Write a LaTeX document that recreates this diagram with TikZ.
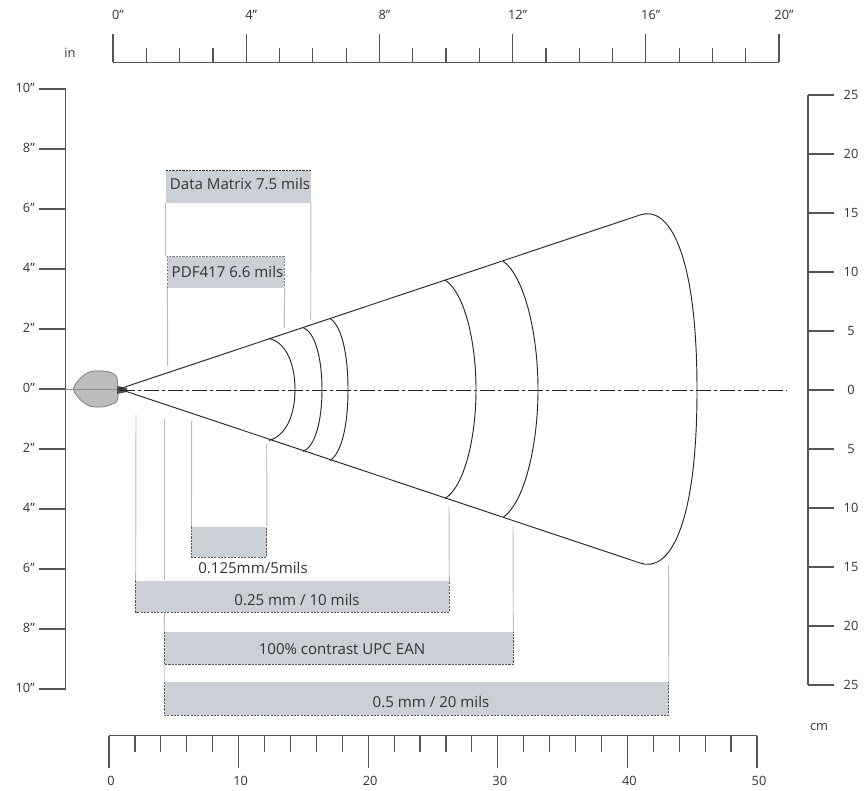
\documentclass[tikz,border=0pt]{standalone}
\usepackage{fontspec}
\setmainfont{Open Sans}[Ligatures=ResetAll]
\definecolor{ink}{HTML}{333333}
\definecolor{rule}{HTML}{555555}
\definecolor{boxgray}{HTML}{CBCFD6}
\definecolor{leadgray}{HTML}{B8BABD}
\definecolor{blob}{HTML}{BDBDBD}
\newcommand{\inchmark}{\char"22\relax}
\begin{document}
\begin{tikzpicture}[x=0.75pt,y=-0.75pt,
  ruler/.style={draw=rule,line width=0.9pt},
  lab/.style={text=ink,font=\fontsize{9.6}{11}\selectfont,inner sep=0pt},
  barlab/.style={text=ink,font=\fontsize{11.3}{13}\selectfont,inner sep=0pt},
  barbox/.style={fill=boxgray,rectangle,inner sep=0pt},
  edgedash/.style={draw=rule,line width=0.7pt,dash pattern=on 1.6pt off 0.9pt},
  leader/.style={draw=leadgray,line width=0.7pt},
  beam/.style={draw=black!85,line width=0.7pt}]
\useasboundingbox (0,0) rectangle (864,791);
% top ruler
\draw[ruler] (113,62.5) -- (779,62.5);
\foreach \i in {0,...,20}{
  \pgfmathsetmacro\xx{113+33.3*\i}
  \draw[ruler] (\xx,62.5) -- (\xx,48);
}
\foreach \i/\t [count=\c] in {0/0,4/4,8/8,12/12,16/16,20/20}{
  \pgfmathsetmacro\xx{113+33.3*\i}
  \draw[ruler] (\xx,62.5) -- (\xx,34);
  \node[lab] (top\c) at (\xx+5,15) {\t\inchmark};
}
\node[lab] (inlab) at (70,53) {in};
% left ruler
\draw[ruler] (65.5,89) -- (65.5,689);
\foreach \v [count=\c] in {10,8,6,4,2,0,2,4,6,8,10}{
  \pgfmathsetmacro\yy{89+60*(\c-1)}
  \draw[ruler] (39,\yy) -- (65.5,\yy);
  \node[lab,anchor=east] (left\c) at (35,\yy-1) {\v\inchmark};
}
% right ruler
\draw[ruler] (808,95) -- (808,685);
\foreach \v [count=\c] in {25,20,15,10,5,0,5,10,15,20,25}{
  \pgfmathsetmacro\yy{95+59*(\c-1)}
  \draw[ruler] (808,\yy) -- (834,\yy);
  \node[lab] (right\c) at (851,\yy) {\v};
}
\node[lab] (cmlab) at (819,727) {cm};
% bottom ruler
\draw[ruler] (109,735.7) -- (757,735.7);
\foreach \i in {0,...,25}{
  \pgfmathsetmacro\xx{109+25.92*\i}
  \draw[ruler] (\xx,735.7) -- (\xx,752);
}
\foreach \i [count=\c] in {0,10,20,30,40,50}{
  \pgfmathsetmacro\xx{109+12.96*\i/1}
  \draw[ruler] (\xx,735.7) -- (\xx,768);
  \node[lab] (bot\c) at (\xx+2,781) {\i};
}
% scanner
\draw[draw=black!55,fill=blob,line width=0.5pt,rounded corners=3pt] (72,389) -- (80,378) -- (90,371) -- (107,371) -- (117,375) -- (118,390) -- (118,402) -- (105,407) -- (90,407) -- (80,400) -- cycle;
\draw[draw=black!45,line width=0.6pt] (65,389) -- (118,389);
\fill[black!70] (117,386) -- (127,388) -- (127,392) -- (117,394) -- cycle;
% boxes
\node[barbox,minimum width=108.5pt,minimum height=24pt] (dm) at (238.3,186.7) {};
\node[barbox,minimum width=87.5pt,minimum height=23.3pt] (pdf) at (226,272.2) {};
\node[barbox,minimum width=56.2pt,minimum height=22.5pt] (smallb) at (229.2,541.7) {};
\node[barbox,minimum width=234.8pt,minimum height=23.5pt] (b25) at (292.5,596.3) {};
\node[barbox,minimum width=261.4pt,minimum height=24pt] (b100) at (338.8,648) {};
\node[barbox,minimum width=378pt,minimum height=24.8pt] (b50) at (416.5,698.5) {};
\node[barlab] (dmlab) at (240,184) {Data Matrix 7.5 mils};
\node[barlab] (pdflab) at (227.5,272) {PDF417 6.6 mils};
\node[barlab] (smalllab) at (253,568) {0.125mm/5mils};
\node[barlab] (b25lab) at (297,600) {0.25 mm / 10 mils};
\node[barlab] (b100lab) at (342,649) {100\% contrast UPC EAN};
\node[barlab] (b50lab) at (431,702) {0.5 mm / 20 mils};
% dashed box edges
\draw[edgedash,draw=black!80] (dm.north west) -- (dm.north east);
\draw[edgedash,draw=black!50] (pdf.south west) -- (pdf.north west) -- (pdf.north east) -- (pdf.south east);
\draw[edgedash] (smallb.north west) -- (smallb.south west) -- (smallb.south east) -- (smallb.north east);
\draw[edgedash] (b25.north west) -- (b25.south west) -- (b25.south east) -- (b25.north east);
\draw[edgedash] (b100.north west) -- (b100.south west) -- (b100.south east) -- (b100.north east);
\draw[edgedash] (b50.north west) -- (b50.south west) -- (b50.south east) -- (b50.north east);
% leaders
\coordinate (dmR) at (310.7,320);
\coordinate (pdfL) at (167.7,366);
\coordinate (pdfR) at (284.3,328);
\coordinate (smL) at (191.7,421);
\coordinate (smR) at (266.7,444);
\coordinate (b25L) at (136,415);
\coordinate (b25R) at (449,507);
\coordinate (b100R) at (513,525);
\coordinate (b50R) at (668.5,565);
\coordinate (b100L) at (164.5,419);
\draw[leader] (dm.south west) -- (dm.south west |- pdf.north);
\draw[leader] (dm.south east) -- (dmR);
\draw[leader] (pdf.south west) -- (pdfL);
\draw[leader] (pdf.south east) -- (pdfR);
\draw[leader] (smallb.north west) -- (smL);
\draw[leader] (smallb.north east) -- (smR);
\draw[leader] (b25.north west) -- (b25L);
\draw[leader] (b25.north east) -- (b25R);
\draw[leader] (b100.north east) -- (b100R);
\draw[leader] (b50.north east) -- (b50R);
\draw[leader] (b100L) -- (b100L |- b25.north);
\draw[leader] (b100L |- b25.south) -- (b100.north west);
\draw[leader] (b100.south west) -- (b50.north west);
% centre line
\draw[line width=0.7pt,draw=black!85,dash pattern=on 11pt off 2.5pt on 2pt off 2.5pt] (120,390) -- (787,390);
% beam
\coordinate (apex) at (119,389);
\coordinate (capT) at (640,215);
\coordinate (capB) at (640,563);
\draw[beam,line join=round] (capT) -- (apex) -- (capB);
\draw[beam] (capT) .. controls (668,205) and (697,250) .. (697,390) .. controls (697,530) and (668,573) .. (capB);
\draw[beam] (269,338.5) .. controls (285,342) and (295,362) .. (295,389.5) .. controls (295,417) and (285,436) .. (269,440.5);
\draw[beam] (303,327.5) .. controls (315,332) and (322,358) .. (322,389.5) .. controls (322,421) and (315,447) .. (303,451.5);
\draw[beam] (330,318.5) .. controls (342,326) and (348,355) .. (348,389.5) .. controls (348,424) and (342,453) .. (330,460.5);
\draw[beam] (445,280) .. controls (464,292) and (476,340) .. (476,389.5) .. controls (476,439) and (464,487) .. (445,498.5);
\draw[beam] (503,261) .. controls (525,277) and (538,335) .. (538,389.5) .. controls (538,444) and (525,502) .. (503,517.5);
\end{tikzpicture}
\end{document}
